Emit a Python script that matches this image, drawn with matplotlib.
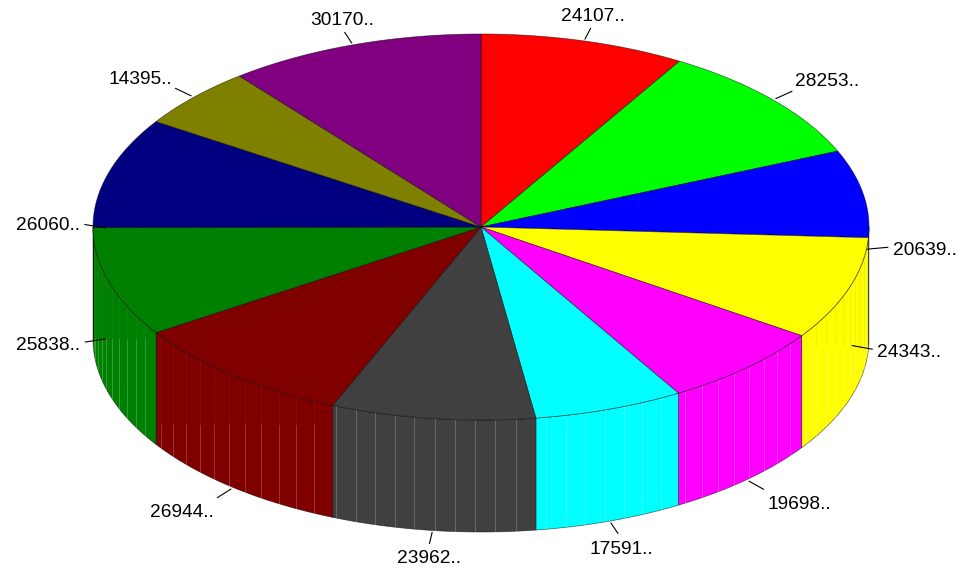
import numpy as np
import matplotlib
matplotlib.use('Agg')
import matplotlib.pyplot as plt
from matplotlib.patches import Polygon

values = [24107, 28253, 20639, 24343, 19698, 17591, 23962, 26944, 25838, 26060, 14395, 30170]
labels = ['24107..', '28253..', '20639..', '24343..', '19698..', '17591..',
          '23962..', '26944..', '25838..', '26060..', '14395..', '30170..']
colors = ['#ff0000', '#00ff00', '#0000ff', '#ffff00', '#ff00ff', '#00ffff',
          '#404040', '#800000', '#008000', '#000080', '#808000', '#800080']

# geometry of the pie, in pixels
CX, CY = 481, 227
RX, RY = 388, 193
DEPTH = 112

# how far down the side each label sits (0 top rim, 1 bottom rim)
label_drop = [0, 0, 0.5, 0.5, 1, 1, 1, 1, 0.5, 0.5, 0, 0]
# text centre relative to the leader end
label_dx = [2, 35, 37, 37, 36, 3, -0.5, -35.5, -37, -37, -35, -2.6]
label_dy = [-12, -10, 3, 3.4, 15.5, 16, 15, 14.5, 3.4, 0.6, -8.7, -12]
# y where the light part of the side stripes starts
stripe_break = [0, 0, 0, 348, 0, 0, 0, 425, 339, 0, 0, 0]
EDGE = (0, 0, 0, 0.6)


def pt(deg, drop=0.0):
    a = np.radians(deg)
    return CX + RX * np.sin(a), CY - RY * np.cos(a) + drop


fig = plt.figure(figsize=(9.79, 5.72), dpi=100)
ax = fig.add_axes([0, 0, 1, 1])
ax.set_xlim(0, 979)
ax.set_ylim(572, 0)
ax.axis('off')

edges = np.concatenate([[0], np.cumsum(values)]) / sum(values) * 360

# side wall, only the part facing us
for i, col in enumerate(colors):
    start = max(edges[i], 90)
    end = min(edges[i + 1], 270)
    if end <= start:
        continue
    arc = np.linspace(start, end, 80)
    xs, ys = pt(arc)
    wall = list(zip(xs, ys)) + list(zip(xs[::-1], ys[::-1] + DEPTH))
    ax.add_patch(Polygon(wall, closed=True, facecolor=col, edgecolor=EDGE,
                         linewidth=0.5, joinstyle='round', zorder=2))
    for deg in np.arange(edges[i], edges[i + 1], 3.0):
        if deg <= start or deg >= end:
            continue
        x, y = pt(deg)
        brk = max(stripe_break[i], y)
        ax.plot([x, x], [y, brk], color='#808080', lw=0.5, alpha=0.15, zorder=3)
        ax.plot([x, x], [brk, y + DEPTH], color='white', lw=0.5, alpha=0.3, zorder=3)

# top of the pie
for i, col in enumerate(colors):
    arc = np.linspace(edges[i], edges[i + 1], 120)
    xs, ys = pt(arc)
    top = [(CX, CY)] + list(zip(xs, ys))
    ax.add_patch(Polygon(top, closed=True, facecolor=col, edgecolor=EDGE,
                         linewidth=0.5, zorder=4))

# leader lines and labels
for i, text in enumerate(labels):
    mid = (edges[i] + edges[i + 1]) / 2
    s, c = np.sin(np.radians(mid)), np.cos(np.radians(mid))
    x0, y0 = pt(mid, label_drop[i] * DEPTH)
    x0, y0 = x0 + 4 * s, y0 - 2 * c
    x1, y1 = x0 + 21 * s, y0 - 11 * c
    ax.plot([x0, x1], [y0, y1], color='black', lw=0.8, zorder=5)
    ax.text(x1 + label_dx[i], y1 + label_dy[i], text, ha='center', va='center',
            fontsize=13.8, family='Liberation Sans', color='black', zorder=6)

fig.savefig('out.png', dpi=100)
